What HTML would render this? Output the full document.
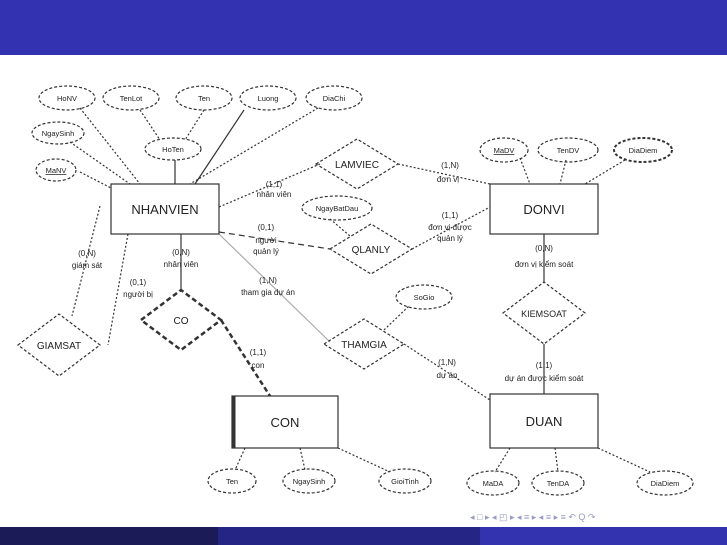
<!DOCTYPE html>
<html><head><meta charset="utf-8"><style>
body{margin:0;width:727px;height:545px;overflow:hidden;background:#fff;font-family:"Liberation Sans",sans-serif}
svg{position:absolute;left:0;top:0}
text{font-family:"Liberation Sans",sans-serif;fill:#222}
.s{font-size:8px}
.e{font-size:7.5px}
.big{font-size:13px}
</style></head><body>
<svg width="727" height="545" viewBox="0 0 727 545">
<rect x="0" y="0" width="727" height="55" fill="#3333b2"/>
<rect x="0" y="527" width="218" height="18" fill="#1b1b58"/>
<rect x="218" y="527" width="262" height="18" fill="#252585"/>
<rect x="480" y="527" width="247" height="18" fill="#3333b0"/>
<text x="470" y="520" font-size="9" fill="#9999cc" style="fill:#9999cc">◂ □ ▸ ◂ ◰ ▸ ◂ ≡ ▸ ◂ ≡ ▸   ≡   ↶ Q ↷</text>

<g stroke="#333" fill="none" stroke-width="1.2">
<!-- lines NHANVIEN attrs -->
<g stroke-dasharray="2,2">
<line x1="80" y1="108" x2="140" y2="184"/>
<line x1="140" y1="110" x2="160" y2="140"/>
<line x1="204" y1="110" x2="185" y2="140"/>
<line x1="318" y1="108" x2="190" y2="184"/>
<line x1="70" y1="142" x2="130" y2="184"/>
<line x1="80" y1="172" x2="111" y2="188"/>
<line x1="219" y1="207" x2="320" y2="164"/>
<line x1="398" y1="164" x2="490" y2="184"/>
<line x1="412" y1="249" x2="490" y2="207"/>
<line x1="330" y1="219" x2="350" y2="236"/>
<line x1="100" y1="206" x2="72" y2="316"/>
<line x1="128" y1="234" x2="108" y2="345"/>
<line x1="384" y1="330" x2="410" y2="305"/>
<line x1="404" y1="344" x2="490" y2="400"/>
<line x1="520" y1="158" x2="530" y2="184"/>
<line x1="566" y1="160" x2="560" y2="184"/>
<line x1="625" y1="160" x2="585" y2="184"/>
<line x1="245" y1="448" x2="235" y2="470"/>
<line x1="300" y1="448" x2="305" y2="470"/>
<line x1="338" y1="448" x2="390" y2="472"/>
<line x1="510" y1="448" x2="495" y2="472"/>
<line x1="555" y1="448" x2="558" y2="472"/>
<line x1="598" y1="448" x2="650" y2="472"/>
</g>
<line x1="244" y1="110" x2="195" y2="184"/>
<line x1="175" y1="160" x2="175" y2="184"/>
<line x1="219" y1="232" x2="330" y2="249" stroke-dasharray="6,4"/>
<line x1="181" y1="234" x2="181" y2="290"/>
<line x1="544" y1="234" x2="544" y2="282"/>
<line x1="544" y1="344" x2="544" y2="394"/>
<line x1="219" y1="234" x2="330" y2="342" stroke="#aaa"/>
<line x1="221" y1="320" x2="270" y2="396" stroke-width="2.5" stroke-dasharray="5,3"/>
<!-- ellipses -->
<g stroke-dasharray="3,2">
<ellipse cx="67" cy="98" rx="28" ry="12"/>
<ellipse cx="131" cy="98" rx="28" ry="12"/>
<ellipse cx="204" cy="98" rx="28" ry="12"/>
<ellipse cx="268" cy="98" rx="28" ry="12"/>
<ellipse cx="334" cy="98" rx="28" ry="12"/>
<ellipse cx="58" cy="133" rx="26" ry="11"/>
<ellipse cx="56" cy="170" rx="20" ry="11"/>
<ellipse cx="173" cy="149" rx="28" ry="11"/>
<ellipse cx="337" cy="208" rx="35" ry="12"/>
<ellipse cx="504" cy="150" rx="24" ry="12"/>
<ellipse cx="568" cy="150" rx="30" ry="12"/>
<ellipse cx="643" cy="150" rx="29" ry="12" stroke-width="2"/>
<ellipse cx="424" cy="297" rx="28" ry="12"/>
<ellipse cx="232" cy="481" rx="24" ry="12"/>
<ellipse cx="309" cy="481" rx="26" ry="12"/>
<ellipse cx="405" cy="481" rx="26" ry="12"/>
<ellipse cx="493" cy="483" rx="26" ry="12"/>
<ellipse cx="558" cy="483" rx="26" ry="12"/>
<ellipse cx="665" cy="483" rx="28" ry="12"/>
<!-- diamonds -->
<polygon points="316,164 357,139 398,164 357,189"/>
<polygon points="330,249 371,224 412,249 371,274"/>
<polygon points="503,313 544,282 585,313 544,344"/>
<polygon points="324,344 364,319 404,344 364,369"/>
<polygon points="18,345 59,314 100,345 59,376"/>
</g>
<polygon points="141,320 181,290 221,320 181,350" stroke-width="2.5" stroke-dasharray="5,3"/>
<!-- rects -->
<rect x="111" y="184" width="108" height="50" fill="#fff"/>
<rect x="490" y="184" width="108" height="50" fill="#fff"/>
<rect x="490" y="394" width="108" height="54" fill="#fff"/>
<rect x="232" y="396" width="106" height="52" fill="#fff"/>
<line x1="234" y1="396" x2="234" y2="448" stroke-width="3"/>
</g>
<g text-anchor="middle">
<text class="e" x="67" y="101">HoNV</text>
<text class="e" x="131" y="101">TenLot</text>
<text class="e" x="204" y="101">Ten</text>
<text class="e" x="268" y="101">Luong</text>
<text class="e" x="334" y="101">DiaChi</text>
<text class="e" x="58" y="136">NgaySinh</text>
<text class="e" x="56" y="173" text-decoration="underline">MaNV</text>
<text class="e" x="173" y="152">HoTen</text>
<text class="e" x="337" y="211">NgayBatDau</text>
<text class="e" x="504" y="153" text-decoration="underline">MaDV</text>
<text class="e" x="568" y="153">TenDV</text>
<text class="e" x="643" y="153">DiaDiem</text>
<text class="e" x="424" y="300">SoGio</text>
<text class="e" x="232" y="484">Ten</text>
<text class="e" x="309" y="484">NgaySinh</text>
<text class="e" x="405" y="484">GioiTinh</text>
<text class="e" x="493" y="486">MaDA</text>
<text class="e" x="558" y="486">TenDA</text>
<text class="e" x="665" y="486">DiaDiem</text>
<text class="big" x="165" y="214">NHANVIEN</text>
<text class="big" x="544" y="214">DONVI</text>
<text class="big" x="544" y="426">DUAN</text>
<text class="big" x="285" y="427">CON</text>
<text font-size="10" x="357" y="168">LAMVIEC</text>
<text font-size="10" x="371" y="253">QLANLY</text>
<text font-size="9" x="544" y="317">KIEMSOAT</text>
<text font-size="10" x="364" y="348">THAMGIA</text>
<text font-size="10" x="59" y="349">GIAMSAT</text>
<text font-size="10" x="181" y="324">CO</text>
<text class="s" x="274" y="187">(1,1)</text><text class="s" x="274" y="197">nhân viên</text>
<text class="s" x="266" y="230">(0,1)</text><text class="s" x="266" y="243">người</text><text class="s" x="266" y="254">quản lý</text>
<text class="s" x="87" y="256">(0,N)</text><text class="s" x="87" y="268">giám sát</text>
<text class="s" x="138" y="285">(0,1)</text><text class="s" x="138" y="297">người bị</text>
<text class="s" x="181" y="255">(0,N)</text><text class="s" x="181" y="267">nhân viên</text>
<text class="s" x="268" y="283">(1,N)</text><text class="s" x="268" y="295">tham gia dự án</text>
<text class="s" x="450" y="168">(1,N)</text><text class="s" x="448" y="182">đơn vị</text>
<text class="s" x="450" y="218">(1,1)</text><text class="s" x="450" y="230">đơn vị được</text><text class="s" x="450" y="241">quản lý</text>
<text class="s" x="544" y="251">(0,N)</text><text class="s" x="544" y="267">đơn vị kiểm soát</text>
<text class="s" x="544" y="368">(1,1)</text><text class="s" x="544" y="381">dự án được kiểm soát</text>
<text class="s" x="447" y="365">(1,N)</text><text class="s" x="447" y="378">dự án</text>
<text class="s" x="258" y="355">(1,1)</text><text class="s" x="258" y="368">con</text>
</g>
</svg>
</body></html>
